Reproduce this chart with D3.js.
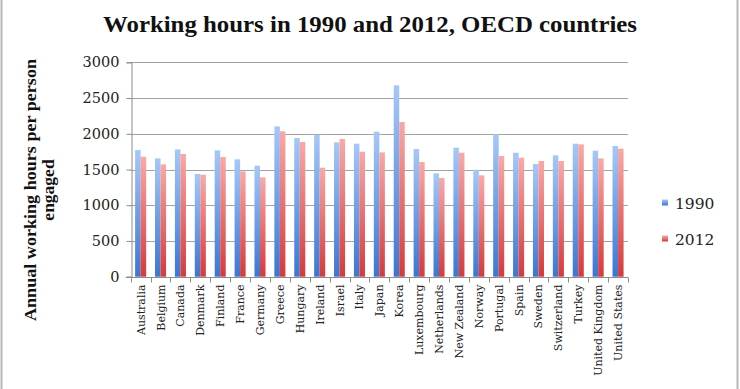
<!DOCTYPE html>
<html>
<head>
<meta charset="utf-8">
<script src="https://cdn.jsdelivr.net/npm/d3@7"></script>
<style>
  body { margin: 0; background: #fff; }
  svg { display: block; }
</style>
</head>
<body>
<script>
const countries = ['Australia', 'Belgium', 'Canada', 'Denmark', 'Finland', 'France', 'Germany',
  'Greece', 'Hungary', 'Ireland', 'Israel', 'Italy', 'Japan', 'Korea', 'Luxembourg',
  'Netherlands', 'New Zealand', 'Norway', 'Portugal', 'Spain', 'Sweden', 'Switzerland',
  'Turkey', 'United Kingdom', 'United States']
const hours1990 = [1773, 1656, 1782, 1437, 1768, 1642, 1553, 2104, 1941, 1987, 1880, 1861, 2029,
  2678, 1787, 1446, 1805, 1497, 1992, 1735, 1577, 1698, 1861, 1763, 1829]
const hours2012 = [1679, 1572, 1717, 1427, 1675, 1474, 1390, 2034, 1885, 1525, 1927, 1749, 1740,
  2165, 1605, 1381, 1735, 1418, 1689, 1665, 1619, 1619, 1852, 1656, 1791]
const seriesNames = ['1990', '2012']
const yTicks = [0, 500, 1000, 1500, 2000, 2500, 3000]

const width = 740, height = 389
const margin = { left: 130.7, right: 112, top: 62.3, bottom: 112.3 }

const svg = d3.select('body').append('svg')
  .attr('width', width)
  .attr('height', height)

// gradients like the old spreadsheet look
const defs = svg.append('defs')
const grads = [
  { id: 'g1990', top: '#a6c8f8', bottom: '#3a76d3' },
  { id: 'g2012', top: '#f8aaa8', bottom: '#d6393a' }
]
grads.forEach(g => {
  const lg = defs.append('linearGradient')
    .attr('id', g.id)
    .attr('x1', 0).attr('y1', 0).attr('x2', 0).attr('y2', 1)
  lg.append('stop').attr('offset', '0%').attr('stop-color', g.top)
  lg.append('stop').attr('offset', '100%').attr('stop-color', g.bottom)
})

// outer frame (only the side edges show)
svg.append('line').attr('x1', 1.5).attr('x2', 1.5).attr('y1', 0).attr('y2', height)
  .attr('stroke', '#b8b8b8').attr('stroke-width', 2)
svg.append('line').attr('x1', 737.5).attr('x2', 737.5).attr('y1', 0).attr('y2', height)
  .attr('stroke', '#b8b8b8').attr('stroke-width', 2)

const x = d3.scaleBand()
  .domain(countries)
  .range([margin.left, width - margin.right])
  .paddingInner(0)
  .paddingOuter(0)

const xSub = d3.scaleBand()
  .domain(seriesNames)
  .range([0, x.bandwidth()])
  .paddingOuter(0.8)
  .paddingInner(0)

const y = d3.scaleLinear()
  .domain([0, 3000])
  .range([height - margin.bottom, margin.top])

// gridlines
svg.append('g')
  .selectAll('line')
  .data(yTicks)
  .join('line')
  .attr('x1', margin.left)
  .attr('x2', width - margin.right)
  .attr('y1', d => Math.round(y(d)) + 0.5)
  .attr('y2', d => Math.round(y(d)) + 0.5)
  .attr('stroke', '#a3a3a3')
  .attr('stroke-width', 1)

// bars
const data = countries.map((c, i) => ({ country: c, values: [hours1990[i], hours2012[i]] }))
const groups = svg.append('g')
  .selectAll('g')
  .data(data)
  .join('g')
  .attr('transform', d => `translate(${x(d.country)},0)`)

groups.selectAll('rect')
  .data(d => d.values.map((v, k) => ({ key: seriesNames[k], value: v })))
  .join('rect')
  .attr('x', d => xSub(d.key))
  .attr('width', xSub.bandwidth())
  .attr('y', d => y(d.value))
  .attr('height', d => y(0) - y(d.value))
  .attr('fill', d => `url(#g${d.key})`)

// y axis
const yAxis = svg.append('g')
  .attr('transform', `translate(${Math.round(margin.left) + 0.5},0)`)
  .call(d3.axisLeft(y).tickValues(yTicks).tickFormat(d3.format('d')).tickSize(5).tickPadding(7))
yAxis.select('.domain').attr('stroke', '#8c8c8c')
yAxis.selectAll('.tick line').attr('stroke', '#8c8c8c')
yAxis.selectAll('.tick text')
  .attr('font-family', 'DejaVu Serif')
  .attr('font-size', 14.5)
  .attr('fill', '#222')

// x axis
const xAxisG = svg.append('g')
  .attr('transform', `translate(0,${Math.round(y(0)) + 0.5})`)
xAxisG.append('line')
  .attr('x1', margin.left - 5).attr('x2', width - margin.right)
  .attr('stroke', '#8c8c8c')
xAxisG.selectAll('.xtick')
  .data(countries.concat(['end']))
  .join('line')
  .attr('class', 'xtick')
  .attr('x1', (d, i) => Math.round(margin.left + i * x.bandwidth()) + 0.5)
  .attr('x2', (d, i) => Math.round(margin.left + i * x.bandwidth()) + 0.5)
  .attr('y1', 0).attr('y2', 5)
  .attr('stroke', '#8c8c8c')
xAxisG.selectAll('.xlabel')
  .data(countries)
  .join('text')
  .attr('class', 'xlabel')
  .attr('transform', d => `translate(${x(d) + x.bandwidth() / 2 + 4},7) rotate(-90)`)
  .attr('text-anchor', 'end')
  .attr('font-family', 'DejaVu Serif')
  .attr('font-size', 11)
  .attr('fill', '#222')
  .text(d => d)

// title
svg.append('text')
  .attr('x', 370)
  .attr('y', 32)
  .attr('text-anchor', 'middle')
  .attr('font-family', 'Liberation Serif')
  .attr('font-weight', 'bold')
  .attr('font-size', 24)
  .attr('textLength', 534)
  .attr('lengthAdjust', 'spacingAndGlyphs')
  .attr('fill', '#111')
  .text('Working hours in 1990 and 2012, OECD countries')

// y axis title
const yTitle = svg.append('g')
  .attr('transform', 'translate(0,190) rotate(-90)')
  .attr('font-family', 'Liberation Serif')
  .attr('font-weight', 'bold')
  .attr('fill', '#111')
yTitle.append('text')
  .attr('x', 0).attr('y', 36)
  .attr('text-anchor', 'middle')
  .attr('font-size', 17.5)
  .attr('textLength', 262)
  .attr('lengthAdjust', 'spacingAndGlyphs')
  .text('Annual working hours per person')
yTitle.append('text')
  .attr('x', 0).attr('y', 54)
  .attr('text-anchor', 'middle')
  .attr('font-size', 17.5)
  .text('engaged')

// legend
const legend = svg.append('g')
  .selectAll('g')
  .data(seriesNames)
  .join('g')
  .attr('transform', (d, i) => `translate(662,${203 + i * 36})`)
legend.append('rect')
  .attr('x', 0).attr('y', -3.5)
  .attr('width', 6).attr('height', 6)
  .attr('fill', d => `url(#g${d})`)
legend.append('text')
  .attr('x', 13).attr('y', 6)
  .attr('font-family', 'DejaVu Serif')
  .attr('font-size', 15.5)
  .attr('fill', '#222')
  .text(d => d)
</script>
</body>
</html>
